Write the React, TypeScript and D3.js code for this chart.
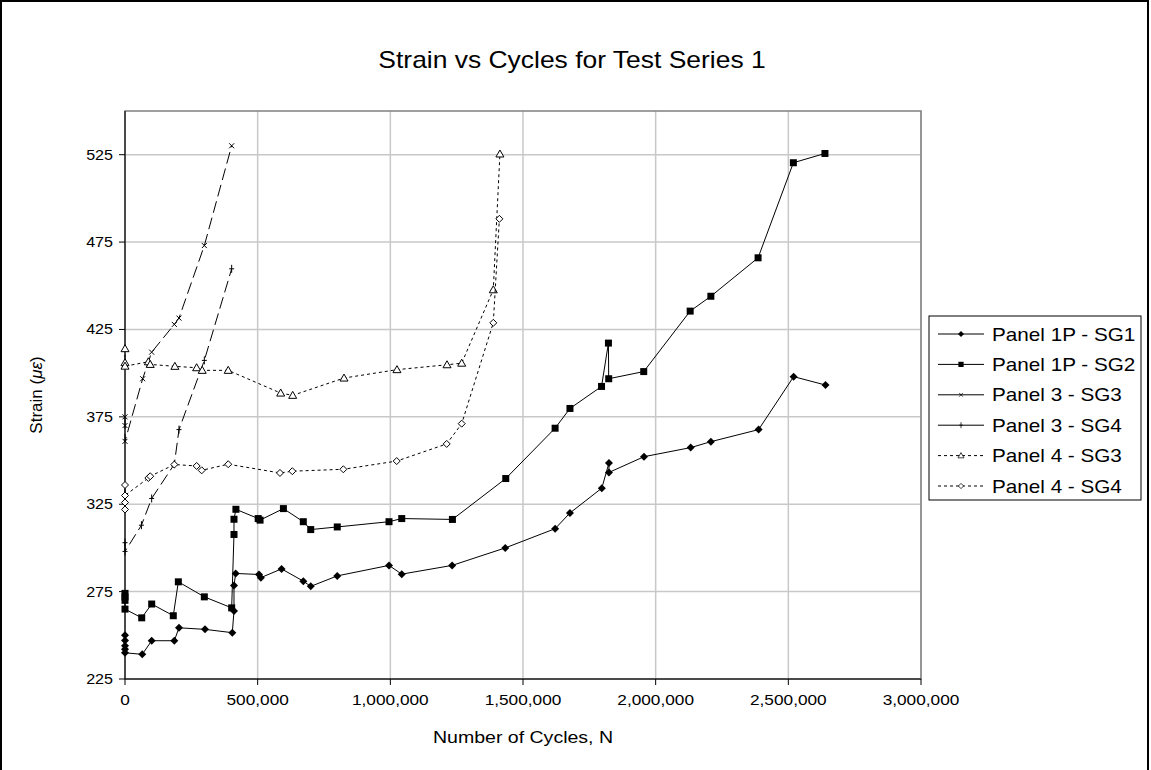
import React from "react";
import * as d3 from "d3";

const xTicks = [0, 500000, 1000000, 1500000, 2000000, 2500000, 3000000];
const yTicks = [225, 275, 325, 375, 425, 475, 525];
const yMax = 550;

const seriesNames = ["Panel 1P - SG1", "Panel 1P - SG2", "Panel 3 - SG3", "Panel 3 - SG4", "Panel 4 - SG3", "Panel 4 - SG4"];

const p1sg1N = [0, 0, 0, 0, 0, 65000, 100600, 185800, 203500, 301500, 404400, 410800, 410800, 417200, 505000, 512000, 590000, 672000, 700000, 800000, 995000, 1043000, 1233000, 1433000, 1621000, 1677000, 1797000, 1824000, 1824000, 1956000, 2132000, 2208000, 2388000, 2520000, 2640000];
const p1sg1S = [250, 247, 244, 242, 240, 239.1, 246.9, 246.9, 254.3, 253.4, 251.5, 263.9, 278.5, 285.4, 284.8, 283, 288, 281, 278, 284, 290, 285, 290, 300, 311, 320, 334.2, 348.6, 343.2, 352.2, 357.4, 360.8, 367.7, 398, 393.2];

const p1sg2N = [0, 0, 0, 0, 63000, 100600, 182000, 201000, 299000, 402000, 410800, 410800, 418000, 502000, 509000, 597000, 672000, 700000, 800000, 995000, 1043000, 1234000, 1435000, 1621000, 1677000, 1796000, 1822000, 1823000, 1955000, 2130000, 2208000, 2386000, 2519000, 2638000];
const p1sg2S = [274, 272, 270, 265, 260, 267.9, 261.2, 280.6, 272, 265.7, 307.7, 316.4, 322.1, 316.8, 315.9, 322.5, 315, 310.5, 312, 315, 316.8, 316.3, 339.7, 368.5, 379.8, 392.4, 417.2, 396.8, 400.9, 435.5, 444, 466, 520.4, 525.7];

const p3sg3N = [0, 0, 0, 66600, 100500, 185900, 203500, 299000, 402000];
const p3sg3S = [375, 370, 361, 396.8, 412, 427.9, 431.5, 473, 530.1];

const p3sg4N = [0, 0, 62000, 100500, 185900, 203500, 299000, 402000];
const p3sg4S = [303, 298, 313, 328.3, 347.9, 367.7, 407.3, 459.7];

const p4sg3N = [0, 0, 0, 88000, 95000, 188000, 270000, 291000, 389000, 586800, 632000, 825400, 1025000, 1213600, 1269000, 1388000, 1413000];
const p4sg3S = [414, 406, 404, 406.5, 405, 403.9, 403.1, 401.6, 401.6, 388.6, 387.3, 397.2, 402, 404.8, 405.7, 447.7, 525.4];

const p4sg4N = [0, 0, 0, 0, 88000, 95000, 185900, 270000, 289000, 389000, 584000, 630600, 822900, 1024000, 1212400, 1269000, 1388000, 1411000];
const p4sg4S = [322, 326, 336, 330, 340, 341, 347.7, 346.9, 344.4, 347.9, 342.9, 343.9, 345, 349.7, 359.5, 371.1, 428.8, 488.3];

type Marker = "diamond" | "square" | "x" | "plus" | "triangle" | "odiamond";

const seriesList = [
  { name: seriesNames[0], N: p1sg1N, S: p1sg1S, marker: "diamond" as Marker, dash: "", legendDash: "" },
  { name: seriesNames[1], N: p1sg2N, S: p1sg2S, marker: "square" as Marker, dash: "", legendDash: "" },
  { name: seriesNames[2], N: p3sg3N, S: p3sg3S, marker: "x" as Marker, dash: "12,5", legendDash: "" },
  { name: seriesNames[3], N: p3sg4N, S: p3sg4S, marker: "plus" as Marker, dash: "12,5", legendDash: "" },
  { name: seriesNames[4], N: p4sg3N, S: p4sg3S, marker: "triangle" as Marker, dash: "3,3", legendDash: "3,3" },
  { name: seriesNames[5], N: p4sg4N, S: p4sg4S, marker: "odiamond" as Marker, dash: "3,3", legendDash: "3,3" },
];

function MarkerShape({ type, x, y, small }: { type: Marker; x: number; y: number; small?: boolean }) {
  const k = small ? 0.75 : 1;
  const t = `translate(${x},${y}) scale(${k})`;
  switch (type) {
    case "diamond":
      return <path transform={t} d="M0,-4L4,0L0,4L-4,0Z" fill="#000" />;
    case "square":
      return <path transform={t} d="M-3.5,-3.5H3.5V3.5H-3.5Z" fill="#000" />;
    case "x":
      return <path transform={t} d="M-2.5,-2.5L2.5,2.5M-2.5,2.5L2.5,-2.5" stroke="#000" strokeWidth={1} fill="none" />;
    case "plus":
      return <path transform={t} d="M0,-4L0,4M-2.5,0L2.5,0" stroke="#000" strokeWidth={1} fill="none" />;
    case "triangle":
      return <path transform={t} d="M0,-4L4,3L-4,3Z" stroke="#000" strokeWidth={1} fill="#fff" />;
    case "odiamond":
      return <path transform={t} d="M0,-3.5L3.5,0L0,3.5L-3.5,0Z" stroke="#000" strokeWidth={1} fill="#fff" />;
  }
  return null;
}

const SX = 1.15;

function SText({ x, y, size, anchor, children }: { x: number; y: number; size: number; anchor?: string; children: React.ReactNode }) {
  return (
    <text transform={`translate(${x},${y}) scale(${SX},1)`} fontSize={size} textAnchor={anchor || "start"} fill="#000">
      {children}
    </text>
  );
}

export default function App() {
  const W = 1151;
  const H = 770;
  const left = 125, right = 921, top = 111, bottom = 679;
  const x = d3.scaleLinear().domain([0, 3000000]).range([left, right]);
  const y = d3.scaleLinear().domain([225, yMax]).range([bottom, top]);
  const fmt = d3.format(",");
  const font = "'Liberation Sans', Arial, sans-serif";

  const legX = 929, legY = 316, legW = 212, legH = 184;

  return (
    <svg width={W} height={H} style={{ position: "absolute", left: 0, top: 0, background: "#fff" }} fontFamily={font}>
      <rect x={0} y={0} width={W} height={H} fill="#fff" />
      <rect x={1} y={1} width={1147} height={H + 10} fill="none" stroke="#000" strokeWidth={2} />
      <SText x={572} y={68} size={23} anchor="middle">Strain vs Cycles for Test Series 1</SText>

      {/* grid */}
      {yTicks.map((t) => (
        <line key={"gy" + t} x1={left} x2={right} y1={y(t)} y2={y(t)} stroke="#c8c8c8" strokeWidth={1.5} />
      ))}
      {xTicks.map((t) => (
        <line key={"gx" + t} x1={x(t)} x2={x(t)} y1={top} y2={bottom} stroke="#c8c8c8" strokeWidth={1.5} />
      ))}
      <rect x={left} y={top} width={right - left} height={bottom - top} fill="none" stroke="#808080" strokeWidth={1.5} />

      {/* axes */}
      <line x1={left} x2={left} y1={top} y2={bottom} stroke="#000" strokeWidth={1} />
      <line x1={left} x2={right} y1={bottom} y2={bottom} stroke="#000" strokeWidth={1} />
      {yTicks.map((t) => (
        <g key={"yt" + t}>
          <line x1={left - 6} x2={left} y1={y(t)} y2={y(t)} stroke="#000" />
          <SText x={113} y={y(t) + 5} size={14} anchor="end">{t}</SText>
        </g>
      ))}
      {xTicks.map((t) => (
        <g key={"xt" + t}>
          <line x1={x(t)} x2={x(t)} y1={bottom} y2={bottom + 6} stroke="#000" />
          <SText x={x(t)} y={bottom + 26} size={15} anchor="middle">{fmt(t)}</SText>
        </g>
      ))}
      <SText x={(left + right) / 2} y={743} size={17} anchor="middle">Number of Cycles, N</SText>
      <text transform={`translate(42,${(top + bottom) / 2}) rotate(-90)`} textAnchor="middle" fontSize={17} fill="#000">
        Strain (<tspan fontStyle="italic">με</tspan>)
      </text>

      {/* series */}
      {seriesList.map((s) => {
        const pts: [number, number][] = s.N.map((n, i) => [x(n), y(s.S[i])]);
        const line = d3.line()(pts) || "";
        return (
          <g key={s.name}>
            <path d={line} fill="none" stroke="#000" strokeWidth={1} strokeDasharray={s.dash || undefined} />
            {pts.map((p, i) => (
              <MarkerShape key={i} type={s.marker} x={p[0]} y={p[1]} />
            ))}
          </g>
        );
      })}

      {/* legend */}
      <rect x={legX} y={legY} width={legW} height={legH} fill="#fff" stroke="#000" strokeWidth={1} />
      {seriesList.map((s, i) => {
        const cy = 334 + i * 30.4;
        return (
          <g key={"leg" + i}>
            <line x1={938} x2={984} y1={cy} y2={cy} stroke="#000" strokeWidth={1} strokeDasharray={s.legendDash || undefined} />
            <MarkerShape type={s.marker} x={961} y={cy} small />
            <SText x={992} y={cy + 6.5} size={18}>{s.name}</SText>
          </g>
        );
      })}
    </svg>
  );
}
